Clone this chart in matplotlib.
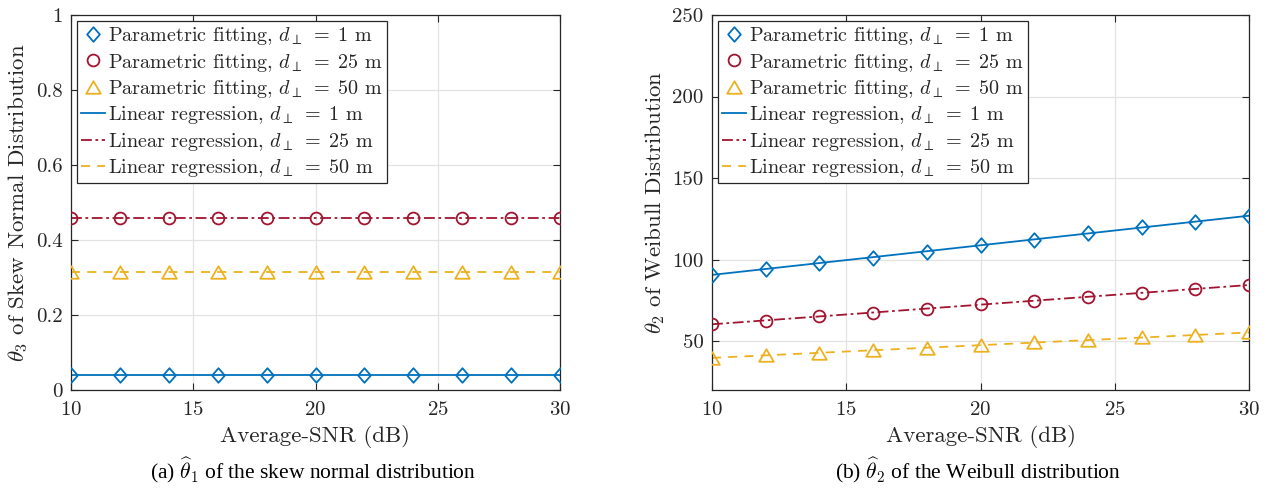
import matplotlib
matplotlib.use("Agg")
import matplotlib.pyplot as plt
from matplotlib.ticker import FuncFormatter
from matplotlib.path import Path

plt.rcParams['font.family'] = 'serif'
plt.rcParams['font.serif'] = ['cmr10', 'DejaVu Serif']
plt.rcParams['mathtext.fontset'] = 'cm'
plt.rcParams['axes.formatter.use_mathtext'] = True
plt.rcParams['axes.unicode_minus'] = False

# ---------------- data ----------------
snr = [10, 12, 14, 16, 18, 20, 22, 24, 26, 28, 30]
reg_snr = [10, 30]

# (a) theta_3 of skew normal distribution
a_fit_1 = [0.04] * 11
a_fit_25 = [0.458] * 11
a_fit_50 = [0.314] * 11
a_reg_1 = [0.04, 0.04]
a_reg_25 = [0.458, 0.458]
a_reg_50 = [0.314, 0.314]

# (b) theta_2 of Weibull distribution
b_fit_1 = [90.6, 94.1, 97.8, 101.2, 104.9, 108.8, 112.3, 116.0, 119.7, 123.2, 126.9]
b_fit_25 = [60.3, 62.5, 65.2, 67.4, 69.9, 72.6, 74.8, 77.2, 79.7, 82.2, 84.4]
b_fit_50 = [39.7, 41.2, 42.8, 44.5, 45.9, 47.7, 49.2, 50.6, 52.3, 53.9, 55.3]
b_reg_1 = [90.6, 126.9]
b_reg_25 = [60.3, 84.4]
b_reg_50 = [39.7, 55.3]

labels_fit = [r'Parametric fitting, $d_{\perp}\;=\;1$ m',
              r'Parametric fitting, $d_{\perp}\;=\;25$ m',
              r'Parametric fitting, $d_{\perp}\;=\;50$ m']
labels_reg = [r'Linear regression, $d_{\perp}\;=\;1$ m',
              r'Linear regression, $d_{\perp}\;=\;25$ m',
              r'Linear regression, $d_{\perp}\;=\;50$ m']

a_yticks = [0, 0.2, 0.4, 0.6, 0.8, 1]
b_yticks = [50, 100, 150, 200, 250]
xticks = [10, 15, 20, 25, 30]

c_blue = '#0072BD'
c_red = '#A2142F'
c_yel = '#EDB120'
axcol = '#262626'

# MATLAB-like marker shapes
diamond = Path([(0, 1), (0.87, 0), (0, -1), (-0.87, 0), (0, 1)],
               [Path.MOVETO, Path.LINETO, Path.LINETO, Path.LINETO, Path.CLOSEPOLY])
triangle = Path([(0, 0.86), (-1, -0.86), (1, -0.86), (0, 0.86)],
                [Path.MOVETO, Path.LINETO, Path.LINETO, Path.CLOSEPOLY])

fig = plt.figure(figsize=(12.76, 4.90), dpi=100)
ax1 = fig.add_axes([71/1276, 100/490, 489/1276, 375/490])
ax2 = fig.add_axes([712/1276, 100/490, 537/1276, 375/490])

def draw(ax, fits, regs, ylim, yticks, ylabel):
    markers = [diamond, 'o', triangle]
    msizes = [10.5, 8.5, 10.5]
    cols = [c_blue, c_red, c_yel]
    styles = ['-', (0, (6, 2, 1.5, 2)), (0, (5, 4))]
    handles = []
    for f, m, ms, c, lab in zip(fits, markers, msizes, cols, labels_fit):
        h, = ax.plot(snr, f, linestyle='none', marker=m, markersize=ms,
                     markerfacecolor='none', markeredgecolor=c,
                     markeredgewidth=1.3, label=lab, zorder=3)
        handles.append(h)
    for r, c, ls, lab in zip(regs, cols, styles, labels_reg):
        h, = ax.plot(reg_snr, r, linestyle=ls, color=c, linewidth=1.3,
                     label=lab, zorder=2)
        handles.append(h)
    ax.set_xlim(10, 30)
    ax.set_ylim(*ylim)
    ax.set_xticks(xticks)
    ax.set_yticks(yticks)
    ax.yaxis.set_major_formatter(FuncFormatter(lambda v, p: '%g' % v))
    ax.grid(True, color='#e3e3e3', linewidth=0.9)
    ax.set_axisbelow(True)
    ax.tick_params(direction='in', top=True, right=True, length=5,
                   labelsize=15, colors=axcol)
    ax.tick_params(axis='x', pad=8)
    ax.tick_params(axis='y', pad=6)
    for s in ax.spines.values():
        s.set_color(axcol)
        s.set_linewidth(0.9)
    ax.set_xlabel('Average-SNR (dB)', fontsize=16.5, color=axcol, labelpad=4)
    ax.set_ylabel(ylabel, fontsize=16.5, color=axcol, labelpad=4)
    leg = ax.legend(handles=handles, loc='upper left', fontsize=14.5,
                    handlelength=1.2, handletextpad=0.15, labelspacing=0.22,
                    borderaxespad=0.3, borderpad=0.2, fancybox=False,
                    framealpha=1, edgecolor=axcol)
    leg.get_frame().set_linewidth(0.9)
    for t in leg.get_texts():
        t.set_color(axcol)

draw(ax1, [a_fit_1, a_fit_25, a_fit_50], [a_reg_1, a_reg_25, a_reg_50],
     (0, 1), a_yticks, r'$\theta_3$ of Skew Normal Distribution')
draw(ax2, [b_fit_1, b_fit_25, b_fit_50], [b_reg_1, b_reg_25, b_reg_50],
     (20, 250), b_yticks, r'$\theta_2$ of Weibull Distribution')

fig.text((71 + 560) / 2 / 1276 - 0.002, 1 - 470/490,
         r'(a) $\widehat{\theta}_1$ of the skew normal distribution',
         ha='center', va='center', fontsize=15.5,
         family=['Liberation Serif'])
fig.text((712 + 1249) / 2 / 1276 - 0.002, 1 - 470/490,
         r'(b) $\widehat{\theta}_2$ of the Weibull distribution',
         ha='center', va='center', fontsize=15.5,
         family=['Liberation Serif'])

fig.savefig('out.png', dpi=100, facecolor='white')
